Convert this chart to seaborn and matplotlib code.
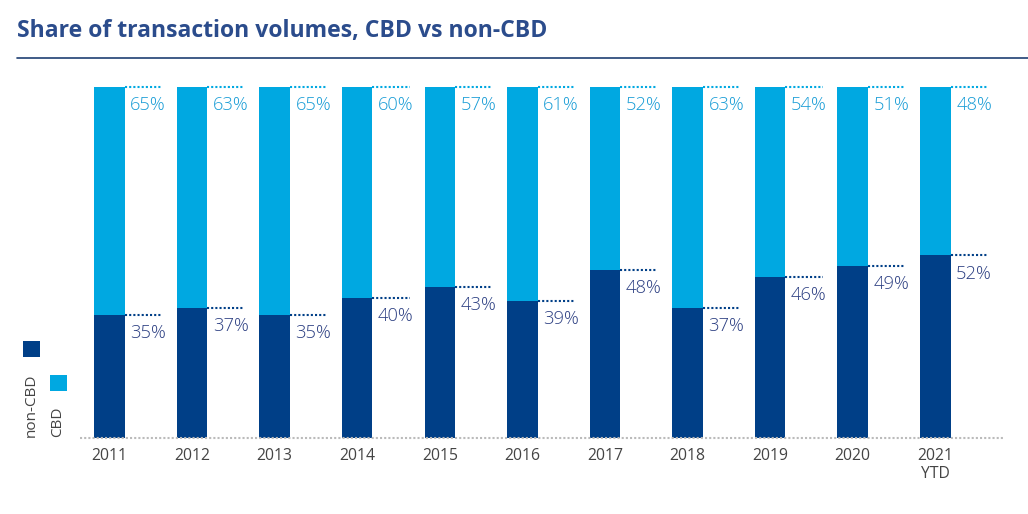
import numpy as np
import pandas as pd
import matplotlib.pyplot as plt
import seaborn as sns
from matplotlib.patches import Rectangle
from matplotlib.lines import Line2D

sns.set_style("white")
plt.rcParams['font.family'] = ['Open Sans', 'DejaVu Sans']

# ---------------------------
# data
# ---------------------------
years = ["2011", "2012", "2013", "2014", "2015", "2016", "2017", "2018", "2019", "2020", "2021\nYTD"]
cbd = [65, 63, 65, 60, 57, 61, 52, 63, 54, 51, 48]
non_cbd = [35, 37, 35, 40, 43, 39, 48, 37, 46, 49, 52]

dark_blue = "#003F87"
light_blue = "#00A8E1"
dark_text = "#2C3F82"
light_text = "#179CD6"

df = pd.DataFrame({"year": years, "cbd": cbd, "non_cbd": non_cbd})
df["total"] = df["cbd"] + df["non_cbd"]

fig = plt.figure(figsize=(10.28, 5.14), dpi=100)
ax = fig.add_axes([0.0778, 0.1479, 0.8979, 0.6828])

bw = 0.37
sns.barplot(data=df, x="year", y="total", color=light_blue, width=bw, ax=ax,
            saturation=1, linewidth=0)
sns.barplot(data=df, x="year", y="non_cbd", color=dark_blue, width=bw, ax=ax,
            saturation=1, linewidth=0)

ax.set_xlim(-0.357, 10.82)
ax.set_ylim(0, 100)
ax.set_xlabel("")
ax.set_ylabel("")
ax.set_yticks([])
for s in ax.spines.values():
    s.set_visible(False)
ax.tick_params(axis="x", length=0, labelsize=11.3, labelcolor="#444444", pad=7)

# baseline
ax.plot([-0.357, 10.82], [0, 0], color="#BBBBBB", lw=1.5, ls=(0, (1, 1)),
        clip_on=False)

# value labels with dotted leaders
for i, row in df.iterrows():
    x0 = i + bw / 2
    x1 = x0 + 0.45
    ax.plot([x0, x1], [row["total"], row["total"]], color=light_blue, lw=1.5,
            ls=(0, (1, 1)), clip_on=False)
    ax.plot([x0, x1], [row["non_cbd"], row["non_cbd"]], color=dark_blue, lw=1.5,
            ls=(0, (1, 1)), clip_on=False)
    ax.annotate(f"{row['cbd']}%", (x0, row["total"]), xytext=(4, -6.5),
                textcoords="offset points", ha="left", va="top",
                fontsize=13.2, fontweight="light", color=light_text)
    ax.annotate(f"{row['non_cbd']}%", (x0, row["non_cbd"]), xytext=(4, -6.5),
                textcoords="offset points", ha="left", va="top",
                fontsize=13.2, fontweight="light", color=dark_text)

# title and rule
fig.text(17 / 1028, 1 - 31 / 514, "Share of transaction volumes, CBD vs non-CBD",
         fontsize=16.6, fontweight="bold", color="#2B4C8C", va="center", ha="left")
fig.add_artist(Line2D([17 / 1028, 1.0], [1 - 58 / 514, 1 - 58 / 514],
                      color="#1F3F73", lw=1.2))

# legend
fig.add_artist(Rectangle((23 / 1028, 1 - 357 / 514), 17 / 1028, 16 / 514,
                         color=dark_blue, lw=0))
fig.add_artist(Rectangle((50 / 1028, 1 - 391 / 514), 17 / 1028, 16 / 514,
                         color=light_blue, lw=0))
fig.text(31 / 1028, 1 - 437 / 514, "non-CBD", rotation=90, fontsize=11,
         color="#444444", ha="center", va="bottom")
fig.text(58 / 1028, 1 - 437 / 514, "CBD", rotation=90, fontsize=11,
         color="#444444", ha="center", va="bottom")

fig.savefig("out.png", dpi=100)
